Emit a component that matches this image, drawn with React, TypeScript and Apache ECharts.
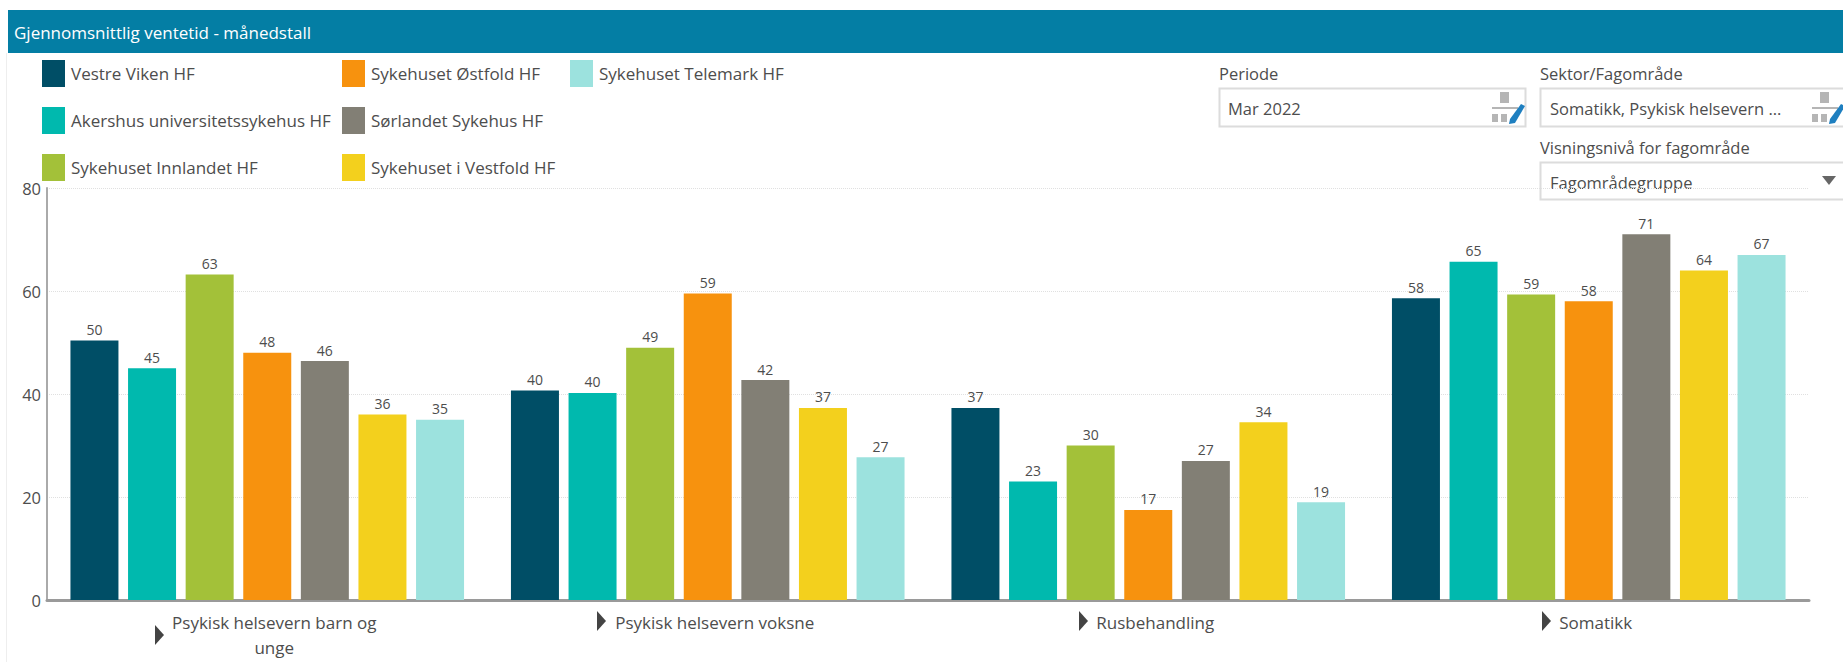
import React, { useEffect, useRef } from "react";
import * as echarts from "echarts";

const title = "Gjennomsnittlig ventetid - månedstall";
const categories = ["Psykisk helsevern barn og\nunge", "Psykisk helsevern voksne", "Rusbehandling", "Somatikk"];
const seriesNames = [
  "Vestre Viken HF",
  "Akershus universitetssykehus HF",
  "Sykehuset Innlandet HF",
  "Sykehuset Østfold HF",
  "Sørlandet Sykehus HF",
  "Sykehuset i Vestfold HF",
  "Sykehuset Telemark HF",
];
const colors = ["#004E66", "#00B9AE", "#A3C139", "#F7920E", "#827F75", "#F3D01D", "#9CE2DE"];
const vestreViken = [50.4, 40.7, 37.3, 58.6];
const akershus = [45.0, 40.2, 23.0, 65.7];
const innlandet = [63.2, 49.0, 30.0, 59.3];
const ostfold = [48.0, 59.5, 17.5, 58.0];
const sorlandet = [46.4, 42.7, 27.0, 71.0];
const vestfold = [36.0, 37.3, 34.5, 64.0];
const telemark = [35.0, 27.7, 19.0, 67.0];
const seriesValues = [vestreViken, akershus, innlandet, ostfold, sorlandet, vestfold, telemark];
const yTicks = { min: 0, max: 80, interval: 20 };
const FONT = "'Open Sans'";
const TXT = "#4d4d4d";

function filterIcon(x: number, y: number) {
  const g = "#b5b5b5";
  return [
    { type: "rect", shape: { x: x + 9, y, width: 9, height: 11 }, style: { fill: g } },
    { type: "rect", shape: { x: x + 1, y: y + 15, width: 26, height: 2 }, style: { fill: g } },
    { type: "rect", shape: { x: x + 1, y: y + 22, width: 6, height: 8 }, style: { fill: g } },
    { type: "rect", shape: { x: x + 10, y: y + 22, width: 6, height: 8 }, style: { fill: g } },
    { type: "polygon", shape: { points: [[x + 19, y + 27], [x + 30, y + 12], [x + 34, y + 14], [x + 24, y + 31], [x + 18, y + 32]] }, style: { fill: "#1E7FC0" } },
  ];
}

function box(x: number, y: number, w: number, h: number) {
  return { type: "rect", shape: { x: x + 0.5, y: y + 0.5, width: w, height: h }, style: { fill: "#fff", stroke: "#dcdcdc", lineWidth: 2 } };
}
function label(x: number, y: number, text: string, fill = TXT, size = 16.5) {
  return { type: "text", x, y, style: { text, fill, font: `${size}px ${FONT}`, verticalAlign: "middle" } };
}

const arrowPos = [[155, 635], [597, 621], [1079, 621], [1542, 621]];

export default function App() {
  const ref = useRef<HTMLDivElement>(null);
  useEffect(() => {
    document.body.style.margin = "0";
    const chart = echarts.init(ref.current!, undefined, { renderer: "svg" });
    const legendCols = [[0, 1, 2], [3, 4, 5], [6]];
    const legendLeft = [42, 342, 570];
    chart.setOption({
      animation: false,
      backgroundColor: "#fff",
      grid: { left: 47, right: 34, top: 188, bottom: 62, containLabel: false, outerBoundsMode: "none" },
      legend: legendCols.map((col, i) => ({
        left: legendLeft[i],
        top: 60,
        orient: "vertical",
        itemWidth: 23,
        itemHeight: 27,
        itemGap: 20,
        padding: 0,
        selectedMode: false,
        icon: "rect",
        data: col.map((k) => seriesNames[k]),
        textStyle: { fontFamily: FONT, fontSize: 17, color: TXT, padding: [0, 0, 0, 1] },
      })),
      xAxis: {
        type: "category",
        data: categories,
        axisTick: { show: false },
        axisLine: { lineStyle: { color: "#9a9a9a", width: 3 } },
        axisLabel: { fontFamily: FONT, fontSize: 17, color: TXT, margin: 10, lineHeight: 25, padding: [0, 0, 0, 14], interval: 0 },
      },
      yAxis: {
        type: "value",
        ...yTicks,
        axisLine: { show: true, lineStyle: { color: "#aaa", width: 2 } },
        axisTick: { show: false },
        axisLabel: { fontFamily: FONT, fontSize: 16.5, color: TXT, margin: 6 },
        splitLine: { lineStyle: { color: "#e0e0e0", type: "dotted", width: 1 } },
      },
      series: seriesNames.map((name, i) => ({
        name,
        type: "bar",
        data: seriesValues[i],
        barWidth: 48,
        barGap: "20%",
        itemStyle: { color: colors[i] },
        label: {
          show: true,
          position: "top",
          distance: 4,
          fontFamily: FONT,
          fontSize: 14,
          color: TXT,
          formatter: (p: any) => String(Math.floor(p.value)),
        },
      })),
      graphic: [
        { type: "rect", silent: true, shape: { x: 6, y: 53, width: 1, height: 609 }, style: { fill: "#eee" } },
        { type: "rect", silent: true, shape: { x: 8, y: 10, width: 1835, height: 43 }, style: { fill: "#047EA4" } },
        label(14, 32, title, "#fff", 17),
        label(1219, 73, "Periode"),
        box(1219, 88, 306, 38),
        label(1228, 108, "Mar 2022"),
        ...filterIcon(1491, 92),
        label(1540, 73, "Sektor/Fagområde"),
        box(1540, 88, 310, 38),
        label(1550, 108, "Somatikk, Psykisk helsevern ..."),
        ...filterIcon(1811, 92),
        label(1540, 147, "Visningsnivå for fagområde"),
        box(1540, 162, 310, 37),
        label(1550, 182, "Fagområdegruppe"),
        { type: "polygon", shape: { points: [[1822, 176], [1836, 176], [1829, 185]] }, style: { fill: "#666" } },
        ...arrowPos.map(([x, y]) => ({
          type: "polygon",
          shape: { points: [[x, y - 10], [x + 9, y], [x, y + 10]] },
          style: { fill: "#444" },
        })),
      ],
    });
    return () => chart.dispose();
  }, []);
  return <div ref={ref} style={{ width: 1843, height: 662 }} />;
}
